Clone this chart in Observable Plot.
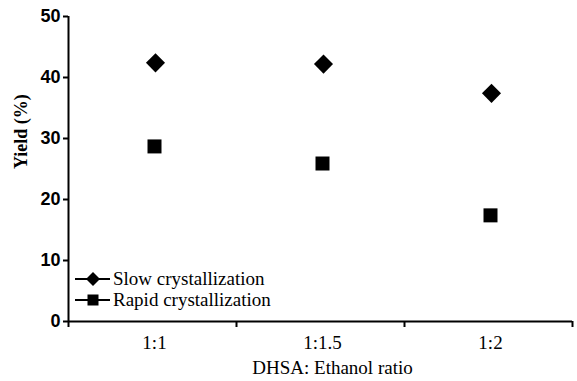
<!DOCTYPE html>
<html><head><meta charset="utf-8">
<script src="https://cdn.jsdelivr.net/npm/d3@7"></script>
<script src="https://cdn.jsdelivr.net/npm/@observablehq/plot@0.6"></script>
<style>
body{margin:0;background:#fff;}
#wrap{position:relative;width:577px;height:381px;font-family:'Liberation Serif';}
#legend{position:absolute;left:74px;top:268px;font-family:'Liberation Serif';font-size:19px;color:#000;}
.row{display:flex;align-items:center;height:21px;}
.row span{margin-left:2px;}
</style>
</head><body>
<div id="wrap"><div id="legend"></div></div>
<script>
const categories = ["1:1", "1:1.5", "1:2"];
const slowValues = [42.4, 42.2, 37.4];
const rapidValues = [28.7, 25.9, 17.4];
const yTicks = [0, 10, 20, 30, 40, 50];
const seriesNames = ["Slow crystallization", "Rapid crystallization"];
const seriesSymbols = ["diamond2", "square"];

const slowData = categories.map((c, i) => ({cat: c, idx: i + 0.5, value: slowValues[i]}));
const rapidData = categories.map((c, i) => ({cat: c, idx: i + 0.5, value: rapidValues[i]}));
const boundaries = d3.range(categories.length + 1);
const centers = categories.map((c, i) => i + 0.5);
const SERIF = "Liberation Serif";
const SANS = "Liberation Sans";

const chart = Plot.plot({
  width: 577,
  height: 381,
  marginLeft: 68,
  marginRight: 5,
  marginTop: 16,
  marginBottom: 60,
  style: {fontFamily: SERIF, color: "#000", background: "#fff"},
  x: {domain: [0, categories.length], axis: null},
  y: {domain: [0, 50], axis: null},
  marks: [
    Plot.axisY({ticks: yTicks, tickSize: 5, tickPadding: 3, fontSize: 18, fontWeight: "bold", strokeWidth: 2, label: null, fontFamily: SANS}),
    Plot.text(["Yield (%)"], {frameAnchor: "left", rotate: -90, dx: -47, dy: 0, fontSize: 18, fontWeight: "bold", fontFamily: SERIF}),
    Plot.axisX({ticks: boundaries, tickSize: 6, tickFormat: () => "", strokeWidth: 2, label: null}),
    Plot.axisX({ticks: centers, tickSize: 0, tickPadding: 14, tickFormat: (d) => categories[Math.round(d - 0.5)], fontSize: 19, label: null, fontFamily: SERIF, dx: 2}),
    Plot.text(["DHSA: Ethanol ratio"], {frameAnchor: "bottom", lineAnchor: "middle", dy: 46, dx: 12, fontSize: 19, fontFamily: SERIF}),
    Plot.ruleX([0], {strokeWidth: 2}),
    Plot.ruleY([0], {strokeWidth: 2}),
    Plot.dot(slowData, {x: "idx", y: "value", symbol: seriesSymbols[0], fill: "black", stroke: "none", r: 8.6, dx: 3}),
    Plot.dot(rapidData, {x: "idx", y: "value", symbol: seriesSymbols[1], fill: "black", stroke: "none", r: 7.9, dx: 2})
  ]
});
document.getElementById("wrap").prepend(chart);

const legend = document.getElementById("legend");
seriesNames.forEach((name, i) => {
  const row = document.createElement("div");
  row.className = "row";
  const sym = seriesSymbols[i] === "diamond2"
    ? '<path d="M19,3 L26,10 L19,17 L12,10 Z" fill="black"/>'
    : '<rect x="13.5" y="4.5" width="11" height="11" fill="black"/>';
  row.innerHTML = '<svg width="37" height="20"><line x1="1" x2="36" y1="10" y2="10" stroke="black" stroke-width="2"/>' + sym + '</svg><span>' + name + '</span>';
  legend.appendChild(row);
});
</script>
</body></html>
